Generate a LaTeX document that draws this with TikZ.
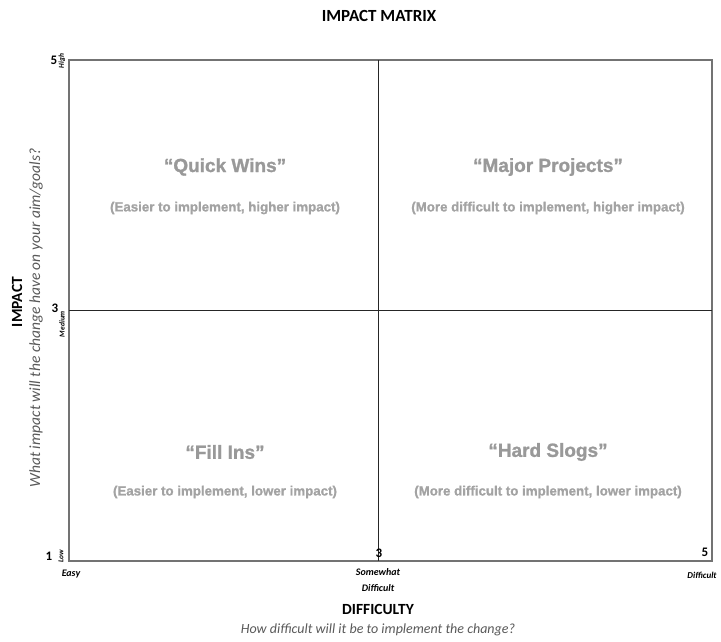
\documentclass[tikz,border=0pt]{standalone}
\usepackage{fontspec}
\setmainfont{Carlito}
\newfontfamily\quadfont[FakeBold=1.2]{Liberation Sans}
\begin{document}
\begin{tikzpicture}[x=1pt,y=-1pt,
  quadtitle/.style={font=\quadfont\bfseries\fontsize{19}{21}\selectfont,text=black!40},
  quadsub/.style={font=\quadfont\bfseries\fontsize{13.3}{15}\selectfont,text=black!36},
  tick/.style={font=\bfseries\fontsize{13}{14}\selectfont,inner sep=0pt},
  small/.style={font=\bfseries\itshape\fontsize{10}{11}\selectfont,inner sep=0pt},
  tiny/.style={font=\bfseries\itshape\fontsize{7.5}{8}\selectfont,inner sep=0pt,rotate=90},
  axislabel/.style={font=\bfseries\fontsize{15.5}{17}\selectfont,inner sep=0pt},
  axissub/.style={font=\itshape\fontsize{14}{16}\selectfont,text=black!65,inner sep=0pt}]
\useasboundingbox (0,0) rectangle (721,641);
% frame
\coordinate (tl) at (69,60);
\coordinate (br) at (712,561);
\draw[black!55, line width=1.3pt] (tl) rectangle (br);
\coordinate (vt) at (378,60);
\coordinate (vb) at (378,561);
\coordinate (hl) at (69,310);
\coordinate (hr) at (712,310);
\draw[black!85, line width=0.9pt] (vt) -- (vb);
\draw[black!85, line width=0.9pt] (hl) -- (hr);
% title
\node[font=\bfseries\fontsize{17}{19}\selectfont,inner sep=0pt] (title) at (379,16) {IMPACT MATRIX};
% quadrants
\node[quadtitle] (qw) at (225,167) {“Quick Wins”};
\node[quadsub] (qws) at (225,208) {(Easier to implement, higher impact)};
\node[quadtitle] (mp) at (548,167) {“Major Projects”};
\node[quadsub] (mps) at (548,208) {(More difficult to implement, higher impact)};
\node[quadtitle] (fi) at (225,452) {“Fill Ins”};
\node[quadsub] (fis) at (225,492) {(Easier to implement, lower impact)};
\node[quadtitle] (hs) at (548,452) {“Hard Slogs”};
\node[quadsub] (hss) at (548,492) {(More difficult to implement, lower impact)};
% y ticks
\node[tick] (y5) at (54,60) {5};
\node[tiny] (yh) at (62,61) {High};
\node[tick] (y3) at (55,308) {3};
\node[tiny] (ym) at (62,324) {Medium};
\node[tick] (y1) at (49,556) {1};
\node[tiny] (yl) at (61,556) {Low};
% x ticks
\node[small] (xe) at (71,574) {Easy};
\node[tick] (x3) at (379,553) {3};
\node[small] (xsw) at (378,572) {Somewhat};
\node[small] (xsd) at (378,588) {Difficult};
\node[tick] (x5) at (705,552) {5};
\node[small,font=\bfseries\itshape\fontsize{9}{10}\selectfont] (xd) at (702,575) {Difficult};
% axis labels
\node[axislabel] (dl) at (378,609) {DIFFICULTY};
\node[axissub] (ds) at (378,630) {How difficult will it be to implement the change?};
\node[axislabel,rotate=90] (il) at (17,302) {IMPACT};
\node[axissub,rotate=90,font=\itshape\fontsize{15.5}{17}\selectfont] (is) at (36,318) {What impact will the change have on your aim/goals?};
\end{tikzpicture}
\end{document}
